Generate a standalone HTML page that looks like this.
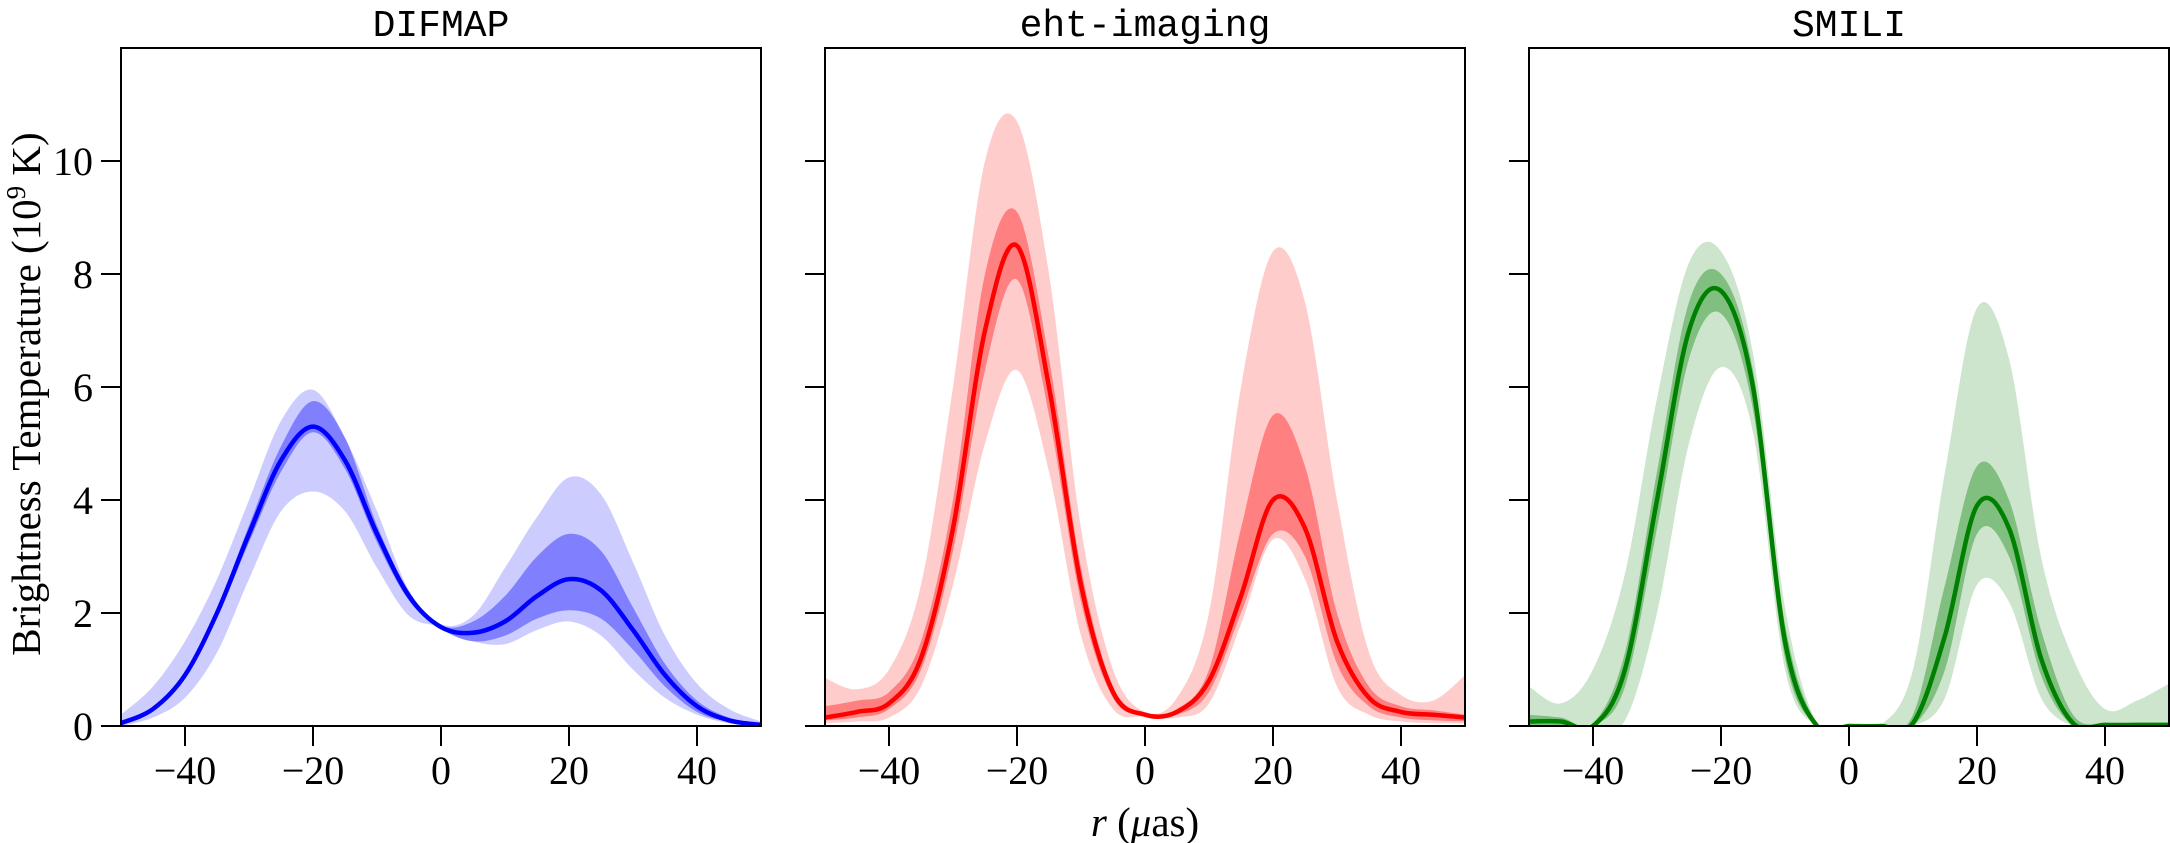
<!DOCTYPE html>
<html><head><meta charset="utf-8"><style>
html,body{margin:0;padding:0;background:#fff;}
svg{display:block;}
text{font-family:"Liberation Serif",serif;fill:#000;}
.mono{font-family:"Liberation Mono",monospace;}
</style></head><body>
<svg id="chart" width="2170" height="843" viewBox="0 0 2170 843"></svg>
<script>
const xs = [-50,-45,-40,-35,-30,-25,-20,-15,-10,-5,0,5,10,15,20,25,30,35,40,45,50];
const xTicks = [-40,-20,0,20,40];
const yTicks = [0,2,4,6,8,10];
const titles = ["DIFMAP","eht-imaging","SMILI"];

const difMed  = [0.05,0.3,0.9,2.0,3.4,4.7,5.3,4.7,3.4,2.3,1.75,1.65,1.85,2.3,2.6,2.4,1.7,0.9,0.35,0.1,0.02];
const difInHi = [0.07,0.33,0.95,2.08,3.55,4.95,5.75,5.1,3.55,2.38,1.78,1.85,2.3,3.0,3.4,3.1,2.1,1.1,0.45,0.15,0.04];
const difInLo = [0.03,0.27,0.85,1.92,3.25,4.5,5.2,4.55,3.25,2.22,1.72,1.5,1.6,1.9,2.05,1.9,1.35,0.7,0.25,0.07,0.01];
const difOutHi= [0.2,0.7,1.5,2.6,4.0,5.4,5.95,5.1,3.8,2.4,1.8,1.95,2.8,3.7,4.4,4.1,2.9,1.6,0.75,0.3,0.08];
const difOutLo= [0.0,0.15,0.5,1.3,2.6,3.8,4.15,3.8,2.8,1.95,1.75,1.5,1.45,1.7,1.85,1.6,1.0,0.5,0.2,0.05,0.0];

const ehtMed  = [0.15,0.25,0.4,1.2,3.5,7.0,8.5,6.0,2.5,0.6,0.2,0.25,0.8,2.3,4.0,3.5,1.5,0.5,0.25,0.2,0.15];
const ehtInHi = [0.35,0.45,0.6,1.5,4.0,8.0,9.1,6.5,2.8,0.7,0.22,0.3,1.0,3.5,5.5,4.6,2.0,0.7,0.35,0.28,0.2];
const ehtInLo = [0.1,0.15,0.3,1.0,3.1,6.3,7.9,5.5,2.2,0.5,0.18,0.2,0.6,2.0,3.4,3.0,1.1,0.35,0.15,0.1,0.08];
const ehtOutHi= [0.85,0.65,1.0,2.5,6.0,10.0,10.7,8.0,3.5,1.0,0.25,0.5,2.0,6.0,8.4,7.5,4.0,1.3,0.55,0.45,0.9];
const ehtOutLo= [0.05,0.08,0.15,0.7,2.5,5.0,6.3,4.5,1.6,0.3,0.17,0.15,0.4,1.8,3.3,2.6,0.7,0.2,0.08,0.05,0.05];

const smiMed  = [0.08,0.08,0.0,1.0,4.0,7.0,7.7,6.0,1.5,0.0,0.0,0.0,0.05,1.6,3.9,3.5,1.2,0.05,0.02,0.02,0.02];
const smiInHi = [0.2,0.15,0.05,1.3,4.5,7.5,8.0,6.3,1.8,0.05,0.0,0.0,0.2,2.5,4.6,4.0,1.7,0.2,0.05,0.05,0.05];
const smiInLo = [0.0,0.0,0.0,0.7,3.5,6.5,7.3,5.6,1.2,0.0,0.0,0.0,0.0,1.0,3.4,3.0,0.9,0.0,0.0,0.0,0.0];
const smiOutHi= [0.7,0.4,1.0,2.7,5.8,8.2,8.4,6.6,2.1,0.05,0.0,0.02,1.0,4.5,7.4,6.5,3.0,1.2,0.3,0.45,0.75];
const smiOutLo= [0.0,0.0,0.0,0.1,2.0,5.0,6.35,5.2,1.0,0.0,0.0,0.0,0.0,0.5,2.5,2.2,0.5,0.0,0.0,0.0,0.0];

const svg = document.getElementById('chart');
const NS = 'http://www.w3.org/2000/svg';
const PL = [121,825,1529], PW = 640, PT = 48, PB = 726;
const XMIN=-50, XMAX=50, YMIN=0, YMAX=12;
function mk(tag, attrs, parent){ const e=document.createElementNS(NS,tag); for(const k in attrs) e.setAttribute(k,attrs[k]); (parent||svg).appendChild(e); return e; }
function sx(p,v){ return PL[p] + (v-XMIN)/(XMAX-XMIN)*PW; }
function sy(v){ return PB - (v-YMIN)/(YMAX-YMIN)*(PB-PT); }
function smooth(pts){
  let d='M'+pts[0][0].toFixed(1)+','+pts[0][1].toFixed(1);
  for(let i=0;i<pts.length-1;i++){
    const p0=pts[Math.max(0,i-1)],p1=pts[i],p2=pts[i+1],p3=pts[Math.min(pts.length-1,i+2)];
    const c1x=p1[0]+(p2[0]-p0[0])/6,c1y=p1[1]+(p2[1]-p0[1])/6;
    const c2x=p2[0]-(p3[0]-p1[0])/6,c2y=p2[1]-(p3[1]-p1[1])/6;
    d+=' C'+c1x.toFixed(1)+','+c1y.toFixed(1)+' '+c2x.toFixed(1)+','+c2y.toFixed(1)+' '+p2[0].toFixed(1)+','+p2[1].toFixed(1);
  }
  return d;
}
function linePts(p,arr){ return xs.map((x,i)=>[sx(p,x),sy(arr[i])]); }
function bandPath(p,lo,hi){
  const top=linePts(p,hi), bot=linePts(p,lo).reverse();
  return smooth(top)+' L'+bot[0][0].toFixed(1)+','+bot[0][1].toFixed(1)+smooth(bot).replace(/^M[^C]*/,' ')+' Z';
}
const series = [
  {med:difMed,inHi:difInHi,inLo:difInLo,outHi:difOutHi,outLo:difOutLo,c:'#0000ff',ci:'#8080ff',co:'#ccccff'},
  {med:ehtMed,inHi:ehtInHi,inLo:ehtInLo,outHi:ehtOutHi,outLo:ehtOutLo,c:'#ff0000',ci:'#ff8080',co:'#ffcccc'},
  {med:smiMed,inHi:smiInHi,inLo:smiInLo,outHi:smiOutHi,outLo:smiOutLo,c:'#008000',ci:'#80bf80',co:'#cce5cc'}
];
const defs = mk('defs',{});
series.forEach((s,p)=>{
  const cp = mk('clipPath',{id:'clip'+p},defs);
  mk('rect',{x:PL[p],y:PT,width:PW,height:PB-PT},cp);
  const g = mk('g',{'clip-path':'url(#clip'+p+')'});
  
  
  const o = mk('path',{d:bandPath(p,s.outLo,s.outHi),fill:s.co},g);
  
  
  const n = mk('path',{d:bandPath(p,s.inLo,s.inHi),fill:s.ci},g);
  
  
  const l = mk('path',{d:smooth(linePts(p,s.med)),fill:'none',stroke:s.c,'stroke-width':4.5,'stroke-linejoin':'round'},g);
  
  
  const fr = mk('rect',{x:PL[p],y:PT,width:PW,height:PB-PT,fill:'none',stroke:'#000','stroke-width':2});
  
  
  const t = mk('text',{x:PL[p]+PW/2,y:36,'text-anchor':'middle','font-size':38,class:'mono'});
  t.textContent = titles[p];
  
  
  xTicks.forEach(v=>{
    const X=sx(p,v);
    const tk = mk('line',{x1:X,y1:PB,x2:X,y2:PB+20,stroke:'#000','stroke-width':2});
    
    
    const tl = mk('text',{x:X,y:784,'text-anchor':'middle','font-size':40});
    tl.textContent = (v<0?'\u2212':'')+Math.abs(v);
    
    
  });
  yTicks.forEach(v=>{
    const Y=sy(v);
    const tk = mk('line',{x1:PL[p]-20,y1:Y,x2:PL[p],y2:Y,stroke:'#000','stroke-width':2});
    
    
    if(p===0){
      const tl = mk('text',{x:93,y:Y+14,'text-anchor':'end','font-size':40});
      tl.textContent = v;
      
      
    }
  });
});
const xl = mk('text',{x:1145,y:836,'text-anchor':'middle','font-size':41});
xl.innerHTML = '<tspan font-style="italic">r</tspan> (<tspan font-style="italic">μ</tspan>as)';


const yl = mk('text',{x:0,y:0,'text-anchor':'middle','font-size':41,transform:'translate(40,394) rotate(-90)'});
yl.innerHTML = 'Brightness Temperature (10<tspan baseline-shift="super" font-size="27">9</tspan> K)';


</script>
</body></html>
